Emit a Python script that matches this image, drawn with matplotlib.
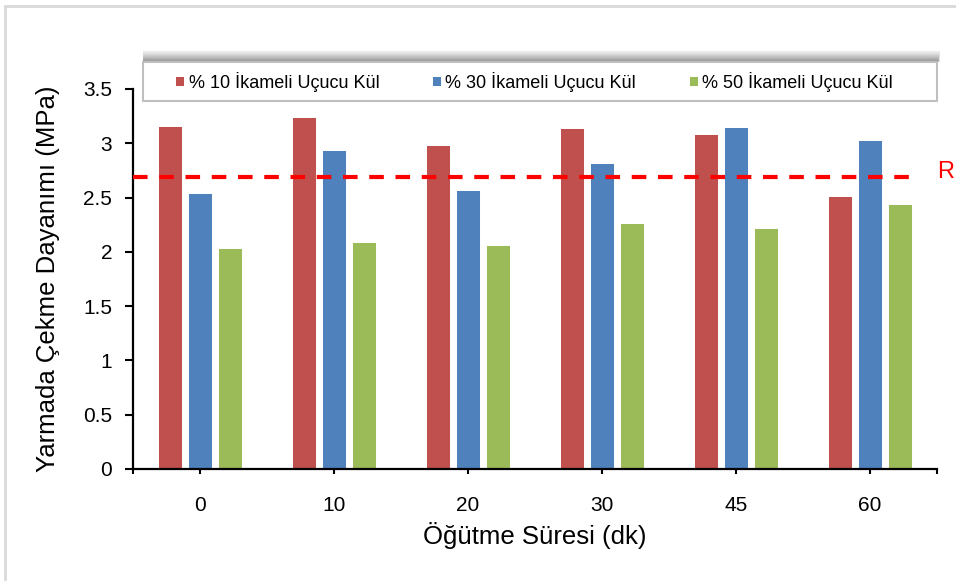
import matplotlib
matplotlib.use("Agg")
import matplotlib.pyplot as plt
from matplotlib.patches import Rectangle
import numpy as np

plt.rcParams['font.family'] = ['Liberation Sans', 'DejaVu Sans']

# grinding time categories (min) and splitting tensile strength (MPa)
categories = ["0", "10", "20", "30", "45", "60"]
fly_ash_10 = [3.16, 3.24, 2.98, 3.14, 3.09, 2.51]
fly_ash_30 = [2.54, 2.94, 2.57, 2.82, 3.15, 3.03]
fly_ash_50 = [2.04, 2.09, 2.06, 2.27, 2.22, 2.44]
series_labels = ["% 10 İkameli Uçucu Kül", "% 30 İkameli Uçucu Kül", "% 50 İkameli Uçucu Kül"]
reference_value = 2.69
reference_label = "R"

colors = ["#C0504D", "#4F81BD", "#9BBB59"]

W, H = 956, 581
fig = plt.figure(figsize=(W / 100, H / 100), dpi=100)

def fx(px):
    return px / W

def fy(py):
    return 1 - py / H

# outer chart border (light gray, runs off the right/bottom edges)
fig.patches.append(Rectangle((fx(5), -0.1), 1.2, fy(6) + 0.1, transform=fig.transFigure,
                             fill=False, edgecolor="#D9D9D9", lw=2, zorder=0))

ax = fig.add_axes([fx(133), fy(469), fx(937) - fx(133), fy(89) - fy(469)])

x = np.arange(len(categories))
width = 0.178
step = 0.222
for i, (vals, c, lab) in enumerate(zip([fly_ash_10, fly_ash_30, fly_ash_50], colors, series_labels)):
    ax.bar(x + (i - 1) * step, vals, width, color=c, edgecolor="white", linewidth=0.7,
           label=lab, zorder=2)

# reference strength line
ax.hlines(reference_value, -0.5, 5.35, colors="#FF0000", linewidth=3,
          linestyles=(0, (3.5, 2.8)), zorder=3, clip_on=False)
ax.text(5.5, reference_value + 0.05, reference_label, color="#FF0000", fontsize=17,
        ha="left", va="center")

ax.set_xlim(-0.5, 5.5)
ax.set_ylim(0, 3.5)
ax.set_yticks(np.arange(0, 3.51, 0.5))
ax.set_yticklabels(["0", "0.5", "1", "1.5", "2", "2.5", "3", "3.5"])
ax.set_xticks(x)
ax.set_xticklabels(categories)
ax.set_xticks([-0.5, 5.5], minor=True)

for s in ["top", "right"]:
    ax.spines[s].set_visible(False)
for s in ["left", "bottom"]:
    ax.spines[s].set_linewidth(1.6)
    ax.spines[s].set_color("black")

ax.tick_params(axis="y", direction="out", length=6, width=1.5, pad=9, labelsize=15)
ax.tick_params(axis="x", which="both", direction="out", length=3.5, width=1.5, pad=16, labelsize=15)

ax.set_ylabel("Yarmada Çekme Dayanımı (MPa)", fontsize=18.5)
ax.set_xlabel("Öğütme Süresi (dk)", fontsize=18.5)
ax.yaxis.set_label_coords((60 - 133) / 804, 0.5)
ax.xaxis.set_label_coords(0.5, (469 - 522) / 380)

# legend box with a soft shadow fading upward from its top edge
bx0, bx1, by0, by1 = 143, 937, 62, 101
n = 30
for k in range(n):
    t = (k + 1) / n
    h = 12 * t ** 1.6
    fig.patches.append(Rectangle((fx(bx0), fy(by0)), fx(bx1 + 3 * t) - fx(bx0), h / H,
                                 transform=fig.transFigure, facecolor="black", alpha=0.02,
                                 edgecolor="none", zorder=4))
fig.patches.append(Rectangle((fx(bx0), fy(by1)), fx(bx1) - fx(bx0), fy(by0) - fy(by1),
                             transform=fig.transFigure, facecolor="white",
                             edgecolor="#BFBFBF", lw=1.5, zorder=5))

handles, labels = ax.get_legend_handles_labels()
leg = fig.legend(handles, labels, loc="center", ncol=3, frameon=False, fontsize=13,
                 bbox_to_anchor=(fx((bx0 + bx1) / 2 - 6), fy((by0 + by1) / 2)),
                 handlelength=0.5, handleheight=0.5, handletextpad=0.25, columnspacing=2.9)
leg.set_zorder(6)

fig.savefig("out.png", dpi=100)
